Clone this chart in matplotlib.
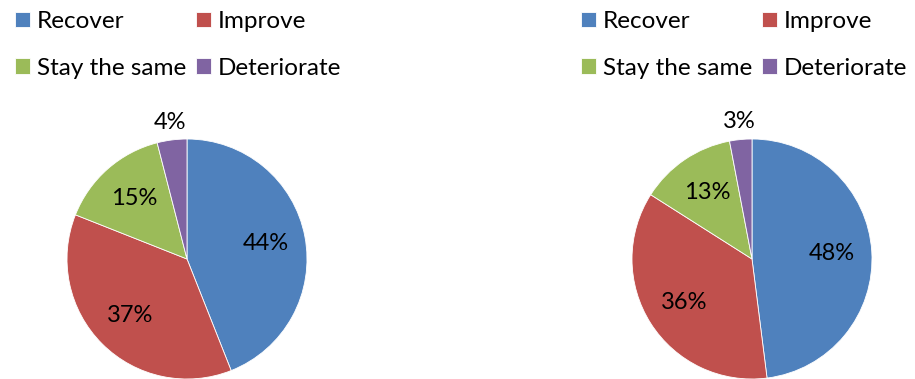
import matplotlib
matplotlib.use("Agg")
import matplotlib.pyplot as plt

plt.rcParams['font.family'] = ['Lato', 'DejaVu Sans']

categories = ["Recover", "Improve", "Stay the same", "Deteriorate"]
left_values = [44, 37, 15, 4]
right_values = [48, 36, 13, 3]
colors = ["#4F81BD", "#C0504D", "#9BBB59", "#8064A2"]

W, H = 915, 379
fig = plt.figure(figsize=(W / 100, H / 100), dpi=100)
LEG_FS = 17.5
PCT_FS = 17


def draw_pie(cx, cy, r, values, legend_x):
    ax = fig.add_axes([(cx - r) / W, (H - cy - r) / H, 2 * r / W, 2 * r / H])
    wedges, texts, autotexts = ax.pie(
        values, colors=colors, startangle=90, counterclock=False,
        autopct=lambda p: f"{p:.0f}%", pctdistance=0.67,
        wedgeprops=dict(edgecolor="white", linewidth=0.6),
        textprops=dict(fontsize=PCT_FS, color="black"))
    # smallest slice gets its label outside the pie
    small = min(range(len(values)), key=lambda i: values[i])
    x, y = autotexts[small].get_position()
    scale = 1.15 / 0.67
    autotexts[small].set_position((x * scale, y * scale))
    for t in autotexts:
        t.set_clip_on(False)
    ax.set_xlim(-1, 1)
    ax.set_ylim(-1, 1)
    ax.set_aspect("equal")
    ax.axis("off")
    # legend filled row by row: Recover, Improve / Stay the same, Deteriorate
    order = [0, 2, 1, 3]
    fig.legend([wedges[i] for i in order], [categories[i] for i in order],
               ncol=2, frameon=False, fontsize=LEG_FS,
               loc="upper left", bbox_to_anchor=(legend_x / W, 1 - 11 / H),
               handlelength=0.62, handleheight=0.62, handletextpad=0.29,
               columnspacing=0.4, labelspacing=1.05, borderpad=0.0,
               borderaxespad=0.0)


draw_pie(187, 259, 120, left_values, 15)
draw_pie(752, 259, 120, right_values, 581)

fig.savefig("out.png", dpi=100)
